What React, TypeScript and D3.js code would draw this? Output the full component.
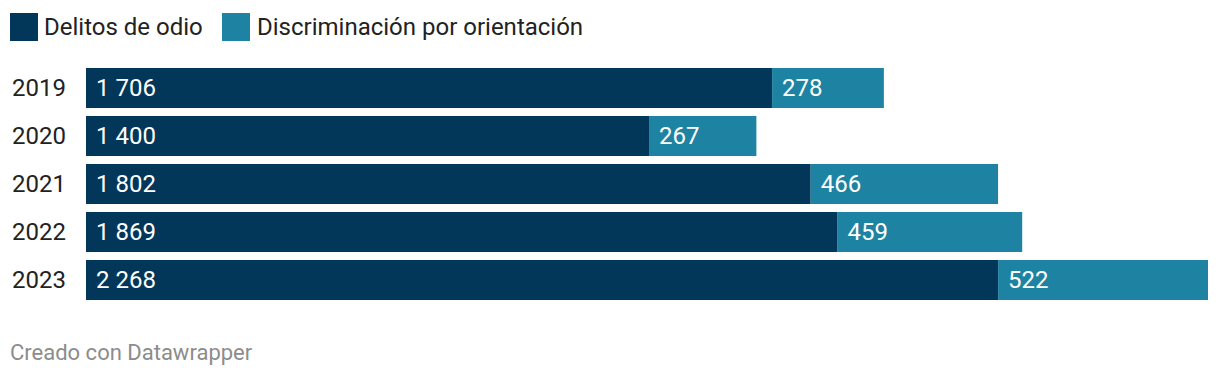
import React from "react";
import * as d3 from "d3";

const years = ["2019", "2020", "2021", "2022", "2023"];
const delitos = [1706, 1400, 1802, 1869, 2268];
const discriminacion = [278, 267, 466, 459, 522];
const seriesNames = ["Delitos de odio", "Discriminación por orientación"];
const colors = ["#03375a", "#1e83a3"];

const W = 1220;
const H = 378;
const fmt = (v: number) => d3.format(",")(v).replace(/,/g, " ");

export default function App() {
  const totals = years.map((_, i) => delitos[i] + discriminacion[i]);
  const x = d3.scaleLinear().domain([0, d3.max(totals)!]).range([86, 1208]);
  const y = d3.scaleBand().domain(years).range([68, 300]).paddingInner(8 / 48).paddingOuter(0);
  const font = "Roboto, sans-serif";
  return (
    <svg width={W} height={H} style={{ position: "absolute", left: 0, top: 0 }} fontFamily={font}>
      <rect width={W} height={H} fill="#fff" />
      <g>
        <rect x={10} y={13} width={28} height={28} fill={colors[0]} />
        <text x={44} y={35} fontSize={24} fill="#222">{seriesNames[0]}</text>
        <rect x={222} y={13} width={28} height={28} fill={colors[1]} />
        <text x={257} y={35} fontSize={24} fill="#222">{seriesNames[1]}</text>
      </g>
      {years.map((yr, i) => {
        const y0 = y(yr)!;
        const bh = y.bandwidth();
        const x0 = x(0);
        const x1 = x(delitos[i]);
        const x2 = x(delitos[i] + discriminacion[i]);
        return (
          <g key={yr}>
            <text x={12} y={y0 + bh / 2} dy="0.35em" fontSize={24} fill="#222">{yr}</text>
            <rect x={x0} y={y0} width={x1 - x0} height={bh} fill={colors[0]} />
            <rect x={x1} y={y0} width={x2 - x1} height={bh} fill={colors[1]} />
            <text x={x0 + 10} y={y0 + bh / 2} dy="0.35em" fontSize={24} fill="#fff">{fmt(delitos[i])}</text>
            <text x={x1 + 10} y={y0 + bh / 2} dy="0.35em" fontSize={24} fill="#fff">{fmt(discriminacion[i])}</text>
          </g>
        );
      })}
      <text x={10} y={360} fontSize={22} fill="#8c8c8c">Creado con Datawrapper</text>
    </svg>
  );
}
